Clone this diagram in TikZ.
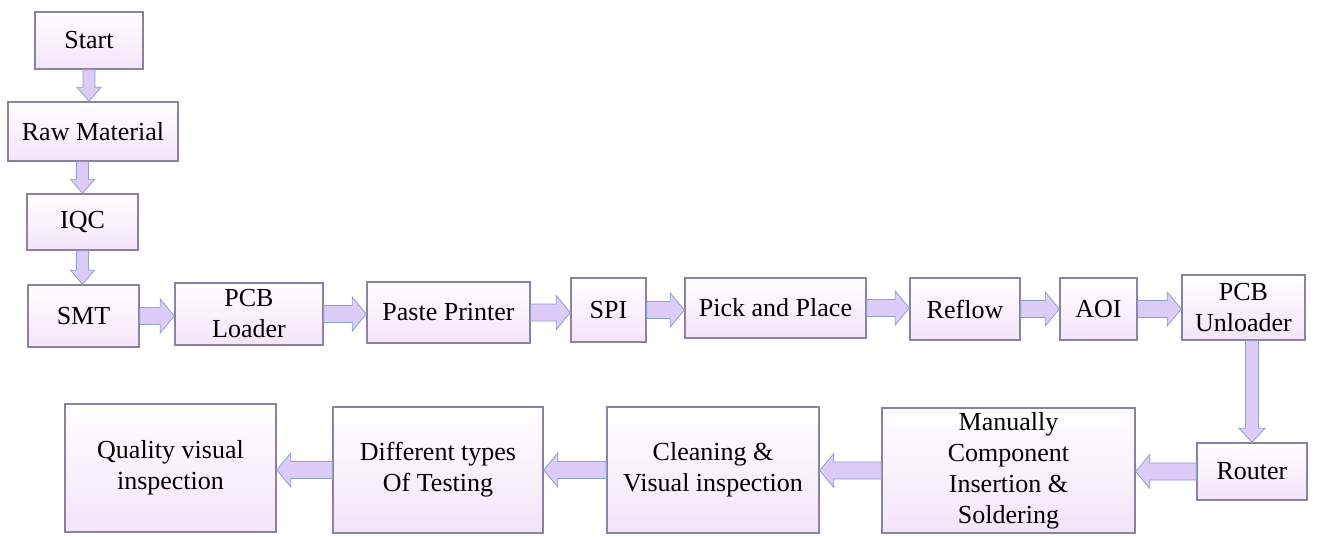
\documentclass[tikz,border=0pt]{standalone}
\usepackage{fontspec}
\setmainfont{Liberation Serif}
\usepackage{tikz}
\usetikzlibrary{calc}
\definecolor{boxline}{RGB}{140,130,160}
\definecolor{boxbottom}{RGB}{244,228,250}
\definecolor{arrowfill}{RGB}{221,204,247}
\definecolor{arrowline}{RGB}{140,160,200}
\tikzset{stagebox/.style = {draw = boxline, line width = 1.5pt, top color = white,
                            bottom color = boxbottom, align = center, inner sep = 0pt,
                            font = \fontsize{26}{31}\selectfont}}
\tikzset{boxsize/.style 2 args = {minimum width = #1pt, minimum height = #2pt}}
\tikzset{flow/.style = {draw = arrowline, fill = arrowfill, line width = 0.8pt, line join = miter}}
% block arrow from #2 to #3, #1 = half width of the shaft
\newcommand{\flowarrow}[3][8.5]{%
  \coordinate (fa-s) at (#2);
  \coordinate (fa-e) at (#3);
  \coordinate (fa-c) at ($(fa-e)!14pt!(fa-s)$);
  \draw [flow] ($(fa-s)!#1pt!90:(fa-e)$) -- ($(fa-c)!#1pt!90:(fa-e)$)
    -- ($(fa-c)!2*#1pt!90:(fa-e)$) -- (fa-e) -- ($(fa-c)!2*#1pt!-90:(fa-e)$)
    -- ($(fa-c)!#1pt!-90:(fa-e)$) -- ($(fa-s)!#1pt!-90:(fa-e)$) -- cycle;}

\begin{document}
\begin{tikzpicture}[x = 1pt, y = -1pt]
  \useasboundingbox (0, 0) rectangle (1333, 536);
  % left column
  \node [stagebox, boxsize = {108}{57}] (start) at (89, 40.5) {Start};
  \node [stagebox, boxsize = {170}{59}] (raw) at (93, 131.5) {Raw Material};
  \node [stagebox, boxsize = {111}{56}] (iqc) at (82.5, 222) {IQC};
  % SMT line
  \node [stagebox, boxsize = {111}{62}] (smt) at (83.5, 316) {SMT};
  \node [stagebox, boxsize = {148}{62}] (pcbl) at (249, 314) {PCB\\Loader};
  \node [stagebox, boxsize = {163}{61}] (paste) at (448.5, 312.5) {Paste Printer};
  \node [stagebox, boxsize = {75}{64}] (spi) at (608.5, 310) {SPI};
  \node [stagebox, boxsize = {181}{60}] (pick) at (775.5, 308) {Pick and Place};
  \node [stagebox, boxsize = {110}{62}] (reflow) at (965, 309) {Reflow};
  \node [stagebox, boxsize = {77}{62}] (aoi) at (1098.5, 309) {AOI};
  \node [stagebox, boxsize = {123}{65}] (unl) at (1243.5, 307.5) {PCB\\Unloader};
  % bottom row
  \node [stagebox, boxsize = {110}{57}] (router) at (1252, 471.5) {Router};
  \node [stagebox, boxsize = {253}{125}] (manual) at (1008.5, 470.5)
        {Manually\\Component\\Insertion \&\\Soldering};
  \node [stagebox, boxsize = {212}{126}] (clean) at (713, 470) {Cleaning \&\\Visual inspection};
  \node [stagebox, boxsize = {210}{126}] (diff) at (438, 470) {Different types\\Of Testing};
  \node [stagebox, boxsize = {211}{128}] (quality) at (170.5, 468) {Quality visual\\inspection};

  \flowarrow[6]{start.south}{start.south |- raw.north}
  \flowarrow[6]{raw.south -| iqc.north}{iqc.north}
  \flowarrow[6]{iqc.south}{iqc.south |- smt.north}
  \flowarrow{smt.east}{smt.east -| pcbl.west}
  \flowarrow{pcbl.east}{pcbl.east -| paste.west}
  \flowarrow{paste.east}{paste.east -| spi.west}
  \flowarrow{spi.east}{spi.east -| pick.west}
  \flowarrow{pick.east}{pick.east -| reflow.west}
  \flowarrow{reflow.east}{reflow.east -| aoi.west}
  \flowarrow{aoi.east}{aoi.east -| unl.west}
  \flowarrow[6.5]{router.north |- unl.south}{router.north}
  \flowarrow{router.west}{router.west -| manual.east}
  \flowarrow{manual.west}{manual.west -| clean.east}
  \flowarrow{clean.west}{clean.west -| diff.east}
  \flowarrow{diff.west}{diff.west -| quality.east}
\end{tikzpicture}
\end{document}
